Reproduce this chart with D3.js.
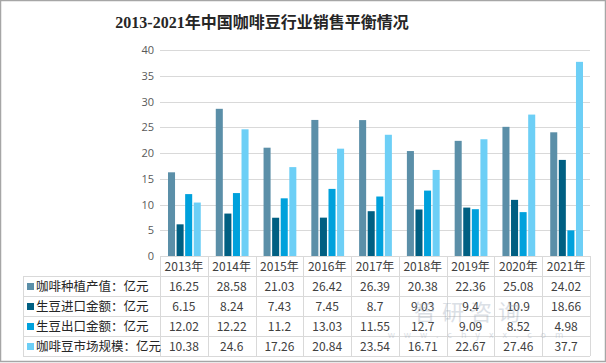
<!doctype html>
<html>
<head>
<meta charset="utf-8">
<script src="https://d3js.org/d3.v7.min.js"></script>
<style>
body { margin: 0; background: #fff; }
svg { display: block; font-family: "Noto Sans CJK SC", "Noto Sans", sans-serif; }
</style>
</head>
<body>
<svg id="chart" width="606" height="363"></svg>
<script>
var years = ["2013年", "2014年", "2015年", "2016年", "2017年", "2018年", "2019年", "2020年", "2021年"];
var seriesNames = ["咖啡种植产值：亿元", "生豆进口金额：亿元", "生豆出口金额：亿元", "咖啡豆市场规模：亿元"];
var planting = [16.25, 28.58, 21.03, 26.42, 26.39, 20.38, 22.36, 25.08, 24.02];
var imports = [6.15, 8.24, 7.43, 7.45, 8.7, 9.03, 9.4, 10.9, 18.66];
var exports = [12.02, 12.22, 11.2, 13.03, 11.55, 12.7, 9.09, 8.52, 4.98];
var market = [10.38, 24.6, 17.26, 20.84, 23.54, 16.71, 22.67, 27.46, 37.7];
var yTicks = [0, 5, 10, 15, 20, 25, 30, 35, 40];
var colors = ["#5b8fa8", "#005f82", "#00a1dc", "#6dcff6"];

var series = [planting, imports, exports, market];
var svg = d3.select("#chart");

// outer frame
svg.append("rect").attr("x", 0.5).attr("y", 0.5).attr("width", 605).attr("height", 361)
	.attr("fill", "#fff").attr("stroke", "#a6a6a6").attr("stroke-width", 1.5);

svg.append("text").attr("x", 262).attr("y", 28).attr("text-anchor", "middle")
	.attr("font-family", "'Liberation Serif', 'Noto Sans CJK SC', serif")
	.attr("font-weight", "bold").attr("font-size", 16).attr("fill", "#262626")
	.text("2013-2021年中国咖啡豆行业销售平衡情况");

var plotLeft = 160, plotRight = 590, plotTop = 50, plotBottom = 256;
var x = d3.scaleBand().domain(years).range([plotLeft, plotRight]);
var y = d3.scaleLinear().domain([0, 40]).range([plotBottom, plotTop]);
var x1 = d3.scaleBand().domain(d3.range(4)).range([8, x.bandwidth() - 7]).paddingInner(0.18);

// gridlines
svg.append("g").selectAll("line").data(yTicks.slice(1)).join("line")
	.attr("x1", plotLeft).attr("x2", plotRight)
	.attr("y1", function(d) { return Math.round(y(d)) + 0.5; })
	.attr("y2", function(d) { return Math.round(y(d)) + 0.5; })
	.attr("stroke", "#d9d9d9");

var yAxis = svg.append("g").attr("transform", "translate(" + (plotLeft - 6) + ",0)")
	.call(d3.axisLeft(y).tickValues(yTicks).tickSize(0).tickPadding(0));
yAxis.select(".domain").remove();
yAxis.selectAll("text").attr("fill", "#595959").attr("font-size", 11)
	.attr("font-family", "'Open Sans', 'Noto Sans', sans-serif");

// bars
series.forEach(function(vals, i) {
	svg.append("g").selectAll("rect").data(vals).join("rect")
		.attr("x", function(d, j) { return x(years[j]) + x1(i); })
		.attr("width", x1.bandwidth())
		.attr("y", function(d) { return y(d); })
		.attr("height", function(d) { return y(0) - y(d); })
		.attr("fill", colors[i]);
});

// data table
var tableLeft = 23, rowH = 20, headTop = 256;
var tableBottom = headTop + rowH * 5;
var grid = svg.append("g").attr("stroke", "#d9d9d9").attr("fill", "none");
d3.range(1, 6).forEach(function(r) {
	var yy = headTop + r * rowH + 0.5;
	grid.append("line").attr("x1", tableLeft).attr("x2", plotRight).attr("y1", yy).attr("y2", yy);
});
grid.append("line").attr("x1", plotLeft).attr("x2", plotRight).attr("y1", headTop + 0.5).attr("y2", headTop + 0.5);
d3.range(years.length + 1).forEach(function(j) {
	var xx = plotLeft + j * x.bandwidth();
	grid.append("line").attr("x1", Math.round(xx) + 0.5).attr("x2", Math.round(xx) + 0.5)
		.attr("y1", headTop).attr("y2", tableBottom);
});
grid.append("line").attr("x1", tableLeft + 0.5).attr("x2", tableLeft + 0.5)
	.attr("y1", headTop + rowH).attr("y2", tableBottom);

svg.append("g").selectAll("text").data(years).join("text")
	.attr("x", function(d) { return x(d) + x.bandwidth() / 2; })
	.attr("y", headTop + 15).attr("text-anchor", "middle")
	.attr("font-size", 12).attr("fill", "#404040").text(function(d) { return d; });

series.forEach(function(vals, i) {
	var rowY = headTop + (i + 1) * rowH;
	svg.append("rect").attr("x", 27).attr("y", rowY + 7).attr("width", 7).attr("height", 7)
		.attr("fill", colors[i]);
	svg.append("text").attr("x", 36).attr("y", rowY + 15).attr("font-size", 12.5)
		.attr("fill", "#262626").text(seriesNames[i]);
	svg.append("g").selectAll("text").data(vals).join("text")
		.attr("x", function(d, j) { return x(years[j]) + x.bandwidth() / 2; })
		.attr("y", rowY + 15).attr("text-anchor", "middle")
		.attr("font-size", 12).attr("fill", "#404040")
		.text(function(d) { return d; });
});

// watermark
var wm = svg.append("g").attr("opacity", 0.35);
wm.append("text").attr("x", 470).attr("y", 320).attr("text-anchor", "middle")
	.attr("font-size", 22).attr("fill", "#9aa7b8").attr("letter-spacing", 6).text("智研咨询");
wm.append("text").attr("x", 480).attr("y", 338).attr("text-anchor", "middle")
	.attr("font-size", 9).attr("fill", "#9aa7b8").attr("letter-spacing", 9).text("www.chyxx.com");
</script>
</body>
</html>
